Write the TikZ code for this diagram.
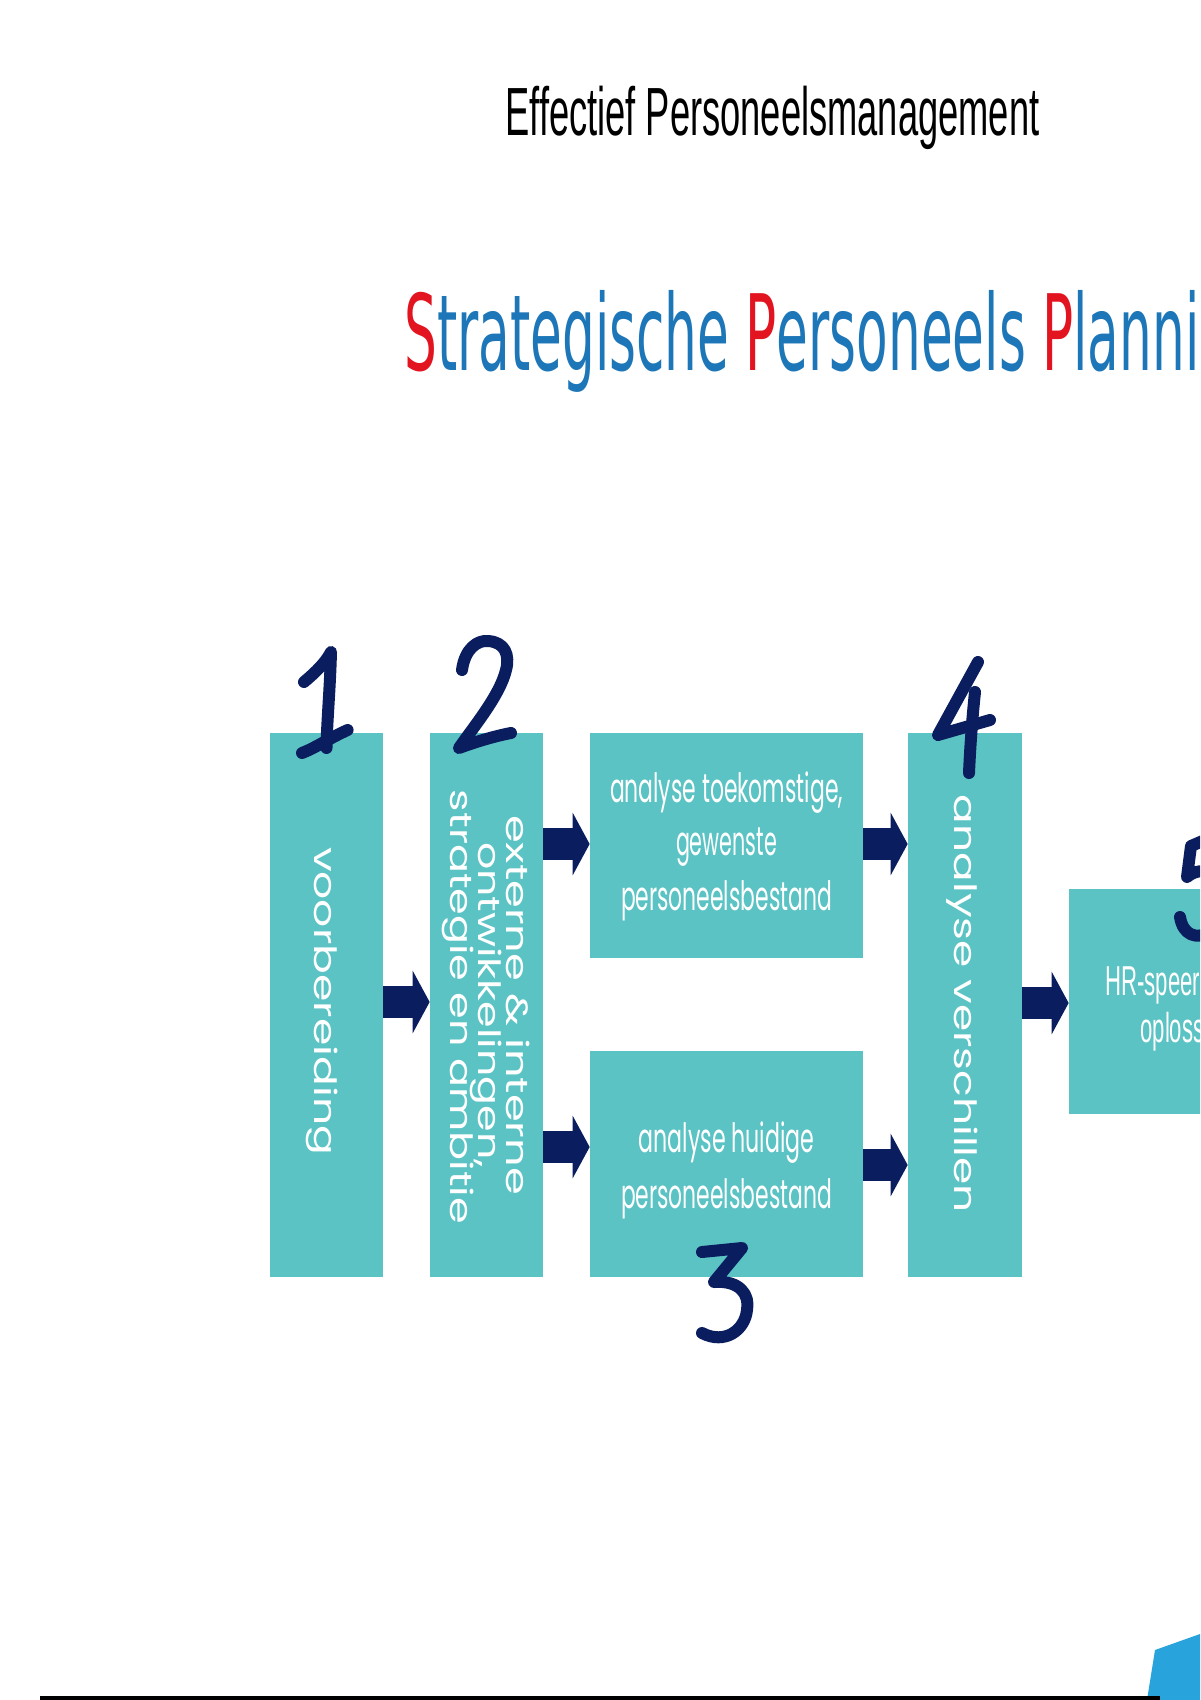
\documentclass[tikz,border=0pt]{standalone}
\usepackage{graphicx}
\usepackage{fontspec}
\setmainfont{Liberation Sans}
\newfontfamily\boxfont{Poppins}
\newfontfamily\titlefont{DejaVu Sans}
\usetikzlibrary{arrows.meta}
\newlength\pxu \setlength\pxu{0.02cm}
\definecolor{boxteal}{RGB}{91,195,196}
\definecolor{navyarr}{RGB}{10,30,95}
\definecolor{titlered}{RGB}{226,20,32}
\definecolor{titleblue}{RGB}{28,118,184}
\definecolor{cornerblue}{RGB}{41,163,219}
\begin{document}
\begin{tikzpicture}[x=0.02cm,y=-0.02cm,
  box/.style={fill=boxteal, draw=none, inner sep=0pt},
  boxtxt/.style={text=white, inner sep=0pt, font=\boxfont\fontsize{23pt}{27pt}\selectfont, anchor=base},
  rottxt/.style={text=white, inner sep=0pt, font=\boxfont\fontsize{17.5pt}{21pt}\selectfont, anchor=base, rotate=-90},
  blockarr/.style={draw=navyarr, fill=navyarr, line width=0.64cm, -{Triangle[width=1.24cm,length=0.34cm]}},
  digit/.style={draw=navyarr, line width=12\pxu, line cap=round, line join=round},
]
\useasboundingbox (0,0) rectangle (1200,1700);
\fill[white] (0,0) rectangle (1200,1700);
\clip (0,0) rectangle (1200,1700);

% titles
\node[anchor=base west, inner sep=0pt, font=\fontsize{38.8pt}{46pt}\selectfont] (title) at (505,135)
  {\resizebox{534\pxu}{\height}{Effectief Personeelsmanagement}};
\node[anchor=base west, inner sep=0pt, font=\titlefont\fontsize{60pt}{70pt}\selectfont, text=titleblue] (subtitle) at (404,370)
  {\scalebox{0.49}[1]{\textcolor{titlered}{S}trategische \textcolor{titlered}{P}ersoneels \textcolor{titlered}{P}lanning}};

% boxes
\node[box, minimum width=113\pxu, minimum height=544\pxu] (b1) at (326.5,1005) {};
\node[box, minimum width=113\pxu, minimum height=544\pxu] (b2) at (486.5,1005) {};
\node[box, minimum width=273\pxu, minimum height=225\pxu] (b3a) at (726.5,845.5) {};
\node[box, minimum width=273\pxu, minimum height=226\pxu] (b3b) at (726.5,1164) {};
\node[box, minimum width=114\pxu, minimum height=544\pxu] (b4) at (965,1005) {};
\node[box, minimum width=273\pxu, minimum height=225\pxu] (b5) at (1205.5,1001.5) {};

% box texts
\node[rottxt] (t1) at (314,1001) {\resizebox{308\pxu}{\height}{voorbereiding}};
\node[rottxt] (t2a) at (506,1005) {\resizebox{380\pxu}{\height}{externe \& interne}};
\node[rottxt] (t2b) at (478,1005) {\resizebox{326\pxu}{\height}{ontwikkelingen,}};
\node[rottxt] (t2c) at (450,1007) {\resizebox{434\pxu}{\height}{strategie en ambitie}};
\node[boxtxt] (t3a1) at (726.5,802) {\resizebox{233\pxu}{\height}{analyse toekomstige,}};
\node[boxtxt] (t3a2) at (726.5,855) {\resizebox{101\pxu}{\height}{gewenste}};
\node[boxtxt] (t3a3) at (726.5,910) {\resizebox{211\pxu}{\height}{personeelsbestand}};
\node[boxtxt] (t3b1) at (726.5,1152) {\resizebox{176\pxu}{\height}{analyse huidige}};
\node[boxtxt] (t3b2) at (726.5,1208) {\resizebox{211\pxu}{\height}{personeelsbestand}};
\node[rottxt] (t4) at (954,1004) {\resizebox{418\pxu}{\height}{analyse verschillen}};
\node[anchor=base west, inner sep=0pt, text=white, font=\fontsize{23.8pt}{28pt}\selectfont] (t5a) at (1105,995)
  {\scalebox{0.53}[1]{HR-speerpunten}};
\node[anchor=base west, inner sep=0pt, text=white, font=\fontsize{23.8pt}{28pt}\selectfont] (t5b) at (1140,1042)
  {\scalebox{0.53}[1]{oplossingen}};

% block arrows
\draw[blockarr] (b1.east |- 0,1002) -- (b2.west |- 0,1002);
\draw[blockarr] (b2.east |- 0,844) -- (b3a.west |- 0,844);
\draw[blockarr] (b2.east |- 0,1147) -- (b3b.west |- 0,1147);
\draw[blockarr] (b3a.east |- 0,844) -- (b4.west |- 0,844);
\draw[blockarr] (b3b.east |- 0,1165) -- (b4.west |- 0,1165);
\draw[blockarr] (b4.east |- 0,1003) -- (b5.west |- 0,1003);

% handwritten numbers
\draw[digit] (304,682) .. controls (316,672) and (326,662) .. (331,652) .. controls (330,690) and (327,720) .. (326.5,748);
\draw[digit] (302,753) .. controls (315,748) and (330,738) .. (347.6,730);
\draw[digit] (462,670) .. controls (465,648) and (478,640) .. (488,641) .. controls (505,642) and (510,655) .. (506,670) .. controls (500,695) and (475,725) .. (459,748) .. controls (475,742) and (495,736) .. (511,733);
\draw[digit] (702,1252) -- (742,1248) -- (714,1282) .. controls (740,1280) and (750,1295) .. (747,1310) .. controls (745,1330) and (725,1345) .. (702,1333);
\draw[digit] (978,662) -- (938,735) -- (990,720);
\draw[digit] (975,692) .. controls (972,720) and (970,750) .. (969,773);
\draw[digit] (1205,840) -- (1191,846) -- (1187,877) .. controls (1195,870) and (1205,870) .. (1210,874);
\draw[digit] (1180,917) .. controls (1183,935) and (1196,940) .. (1210,932);

% footer
\fill[cornerblue] (1147,1700) -- (1155,1650) -- (1200,1634) -- (1200,1700) -- cycle;
\fill[black] (40,1696) rectangle (1160,1700);
\end{tikzpicture}
\end{document}
